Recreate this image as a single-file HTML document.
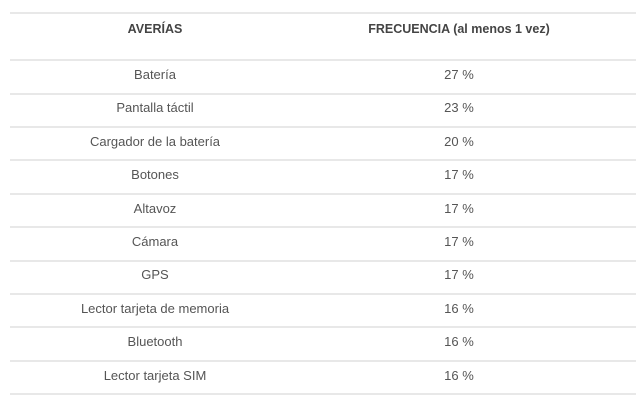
<!DOCTYPE html>
<html><head><meta charset="utf-8"><style>
body{margin:0;background:#fff;width:640px;height:408px;position:relative;font-family:"Liberation Sans",sans-serif;color:#555;}
.l{position:absolute;left:10px;width:626px;height:2px;background:#e8e8e8;}
.t{position:absolute;font-size:13px;transform:translateX(-50%);white-space:nowrap;line-height:14px;}
.h{font-weight:bold;color:#444;font-size:12.5px;}
</style></head><body>
<div class="l" style="top:12px"></div>
<div class="t h" style="left:155px;top:22px">AVERÍAS</div>
<div class="t h" style="left:459px;top:22px">FRECUENCIA (al menos 1 vez)</div>
<div class="l" style="top:59px"></div>
<div class="l" style="top:93px"></div>
<div class="l" style="top:126px"></div>
<div class="l" style="top:159px"></div>
<div class="l" style="top:193px"></div>
<div class="l" style="top:226px"></div>
<div class="l" style="top:260px"></div>
<div class="l" style="top:293px"></div>
<div class="l" style="top:326px"></div>
<div class="l" style="top:360px"></div>
<div class="l" style="top:393px"></div>
<div class="t" style="left:155px;top:68px">Batería</div><div class="t" style="left:459px;top:68px">27 %</div>
<div class="t" style="left:155px;top:101px">Pantalla táctil</div><div class="t" style="left:459px;top:101px">23 %</div>
<div class="t" style="left:155px;top:135px">Cargador de la batería</div><div class="t" style="left:459px;top:135px">20 %</div>
<div class="t" style="left:155px;top:168px">Botones</div><div class="t" style="left:459px;top:168px">17 %</div>
<div class="t" style="left:155px;top:202px">Altavoz</div><div class="t" style="left:459px;top:202px">17 %</div>
<div class="t" style="left:155px;top:235px">Cámara</div><div class="t" style="left:459px;top:235px">17 %</div>
<div class="t" style="left:155px;top:268px">GPS</div><div class="t" style="left:459px;top:268px">17 %</div>
<div class="t" style="left:155px;top:302px">Lector tarjeta de memoria</div><div class="t" style="left:459px;top:302px">16 %</div>
<div class="t" style="left:155px;top:335px">Bluetooth</div><div class="t" style="left:459px;top:335px">16 %</div>
<div class="t" style="left:155px;top:369px">Lector tarjeta SIM</div><div class="t" style="left:459px;top:369px">16 %</div>
</body></html>
